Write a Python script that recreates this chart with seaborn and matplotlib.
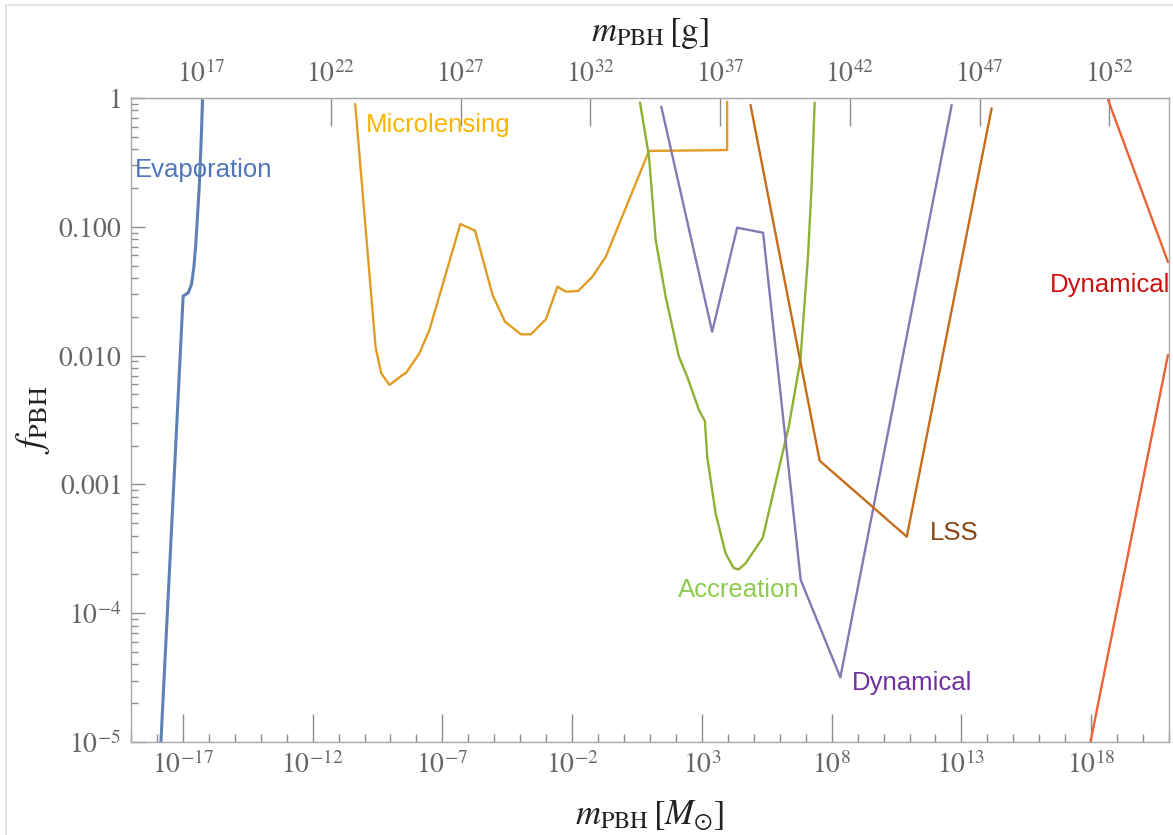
import numpy as np
import pandas as pd
import matplotlib
matplotlib.use("Agg")
import matplotlib.pyplot as plt
import matplotlib.ticker as mticker
from matplotlib.patches import Rectangle
import seaborn as sns

# ---- constraint curves: log10(m_PBH / M_sun) and log10(f_PBH) ----
evap_logm = [-17.85, -16.99, -16.80, -16.67, -16.58, -16.51, -16.44, -16.37, -16.31, -16.24]
evap_logf = [-5.01, -1.537, -1.514, -1.449, -1.318, -1.153, -0.923, -0.693, -0.398, -0.02]

micro_logm = [-10.36, -9.577, -9.358, -9.038, -8.588, -8.396, -7.885, -7.50, -6.308, -5.742,
              -5.065, -4.588, -3.973, -3.588, -3.012, -2.565, -2.242, -1.769, -1.219, -0.704,
              0.962, 3.973, 3.973]
micro_logf = [-0.047, -1.931, -2.137, -2.228, -2.158, -2.133, -1.982, -1.801, -0.978, -1.030,
              -1.530, -1.737, -1.835, -1.835, -1.718, -1.465, -1.504, -1.498, -1.387, -1.232,
              -0.411, -0.404, -0.029]

accr_logm = [0.615, 0.962, 1.219, 1.604, 2.115, 2.435, 2.885, 3.115, 3.204, 3.527, 3.912,
             4.231, 4.423, 4.681, 5.346, 5.835, 6.346, 6.796, 7.088, 7.219, 7.346]
accr_logf = [-0.036, -0.456, -1.102, -1.543, -2.009, -2.164, -2.422, -2.508, -2.785, -3.224,
             -3.535, -3.651, -3.659, -3.613, -3.414, -2.991, -2.552, -2.034, -1.232, -0.714, -0.036]

dyn_logm = [1.435, 3.396, 4.358, 5.358, 6.808, 8.335, 12.627]
dyn_logf = [-0.068, -1.814, -1.007, -1.046, -3.742, -4.498, -0.054]

lss_logm = [4.873, 7.538, 10.896, 14.165]
lss_logf = [-0.054, -2.816, -3.406, -0.08]

dynhi_upper_logm = [18.654, 20.96]
dynhi_upper_logf = [-0.016, -1.273]
dynhi_lower_logm = [17.973, 20.96]
dynhi_lower_logf = [-5.0, -1.995]

# ---- axis ticks ----
x_major_exp = [-17, -12, -7, -2, 3, 8, 13, 18]
g_major_exp = [17, 22, 27, 32, 37, 42, 47, 52]
y_tick_vals = [1e-5, 1e-4, 1e-3, 1e-2, 1e-1, 1.0]
y_tick_labels = [r"$10^{-5}$", r"$10^{-4}$", r"$0.001$", r"$0.010$", r"$0.100$", r"$1$"]

M_SUN_G = 1.989e33

sns.set_style("white")
plt.rcParams["mathtext.fontset"] = "stix"
plt.rcParams["font.family"] = ["Liberation Sans", "DejaVu Sans"]

W, H = 1173, 835
fig = plt.figure(figsize=(W / 100, H / 100), dpi=100)
ax = fig.add_axes([131 / W, (H - 742) / H, (1169 - 131) / W, (742 - 98) / H])
ax.set_xscale("log")
ax.set_yscale("log")

def curve(lm, lf, color, lw=1.7):
    df = pd.DataFrame({"m": np.power(10.0, lm), "f": np.power(10.0, lf)})
    sns.lineplot(data=df, x="m", y="f", sort=False, estimator=None, color=color,
                 lw=lw, ax=ax, legend=False)

curve(evap_logm, evap_logf, "#5E81B5", lw=2.2)
curve(micro_logm, micro_logf, "#E19C24")
curve(accr_logm, accr_logf, "#8FB032")
curve(dyn_logm, dyn_logf, "#8778B3")
curve(lss_logm, lss_logf, "#C56E1A")
curve(dynhi_upper_logm, dynhi_upper_logf, "#EB6235")
curve(dynhi_lower_logm, dynhi_lower_logf, "#EB6235")

ax.set_xlim(1e-19, 1e21)
ax.set_ylim(1e-5, 1.0)

# curve labels
lab_kw = dict(fontsize=18.5, va="center", ha="left", clip_on=False)
ax.text(10**-18.85, 10**-0.559, "Evaporation", color="#4F76B9", **lab_kw)
ax.text(10**-9.935, 10**-0.21, "Microlensing", color="#F7B500", **lab_kw)
ax.text(10**2.088, 10**-3.82, "Accreation", color="#8DCB4E", **lab_kw)
ax.text(10**8.77, 10**-4.542, "Dynamical", color="#7030A0", **lab_kw)
ax.text(10**11.796, 10**-3.375, "LSS", color="#8A4513", **lab_kw)
ax.text(10**16.42, 10**-1.452, "Dynamical", color="#CC1010", **lab_kw)

# bottom axis ticks
grey = "#8c8c8c"
ax.xaxis.set_major_locator(mticker.FixedLocator([10.0**e for e in x_major_exp]))
ax.xaxis.set_minor_locator(mticker.FixedLocator(
    [10.0**e for e in range(-19, 22) if e not in x_major_exp]))
ax.xaxis.set_major_formatter(mticker.FixedFormatter([r"$10^{%d}$" % e for e in x_major_exp]))
ax.xaxis.set_minor_formatter(mticker.NullFormatter())
ax.tick_params(axis="x", which="major", direction="in", length=20, width=1, color=grey,
               labelsize=20, labelcolor="#666666", pad=7, bottom=True, top=False)
ax.tick_params(axis="x", which="minor", direction="in", length=6, width=1, color=grey,
               bottom=True, top=False)

# left axis ticks
ax.yaxis.set_major_locator(mticker.FixedLocator(y_tick_vals))
ax.yaxis.set_major_formatter(mticker.FixedFormatter(y_tick_labels))
ax.yaxis.set_minor_locator(mticker.LogLocator(base=10, subs=np.arange(2, 10), numticks=20))
ax.yaxis.set_minor_formatter(mticker.NullFormatter())
ax.tick_params(axis="y", which="major", direction="in", length=10, width=1, color=grey,
               labelsize=20, labelcolor="#666666", pad=7, left=True, right=False)
ax.tick_params(axis="y", which="minor", direction="in", length=5, width=1, color=grey,
               left=True, right=False)

for s in ax.spines.values():
    s.set_color("#a8a8a8")
    s.set_linewidth(1.0)
    s.set_visible(True)

# top axis in grams
sec = ax.secondary_xaxis("top", functions=(lambda m: m * M_SUN_G, lambda g: g / M_SUN_G))
sec.xaxis.set_major_locator(mticker.FixedLocator([10.0**e for e in g_major_exp]))
sec.xaxis.set_minor_locator(mticker.NullLocator())
sec.xaxis.set_major_formatter(mticker.FixedFormatter([r"$10^{%d}$" % e for e in g_major_exp]))
sec.tick_params(axis="x", which="major", direction="in", length=20, width=1, color=grey,
                labelsize=20, labelcolor="#666666", pad=7, top=True)
sec.spines["top"].set_color("#a8a8a8")
sec.set_xlabel(r"$m_{\mathrm{PBH}}\,[\mathrm{g}]$", fontsize=25, color="#222222", labelpad=14)

ax.set_xlabel(r"$m_{\mathrm{PBH}}\,[M_{\odot}]$", fontsize=25, color="#222222", labelpad=14)
ax.set_ylabel(r"$f_{\mathrm{PBH}}$", fontsize=27, color="#222222", labelpad=4)

# thin outer frame
fig.add_artist(Rectangle((6 / W, -0.1), 1.2, (H - 5) / H + 0.1, transform=fig.transFigure,
                         fill=False, edgecolor="#e2e2e2", lw=1.2))

fig.savefig("out.png", dpi=100, facecolor="white")
